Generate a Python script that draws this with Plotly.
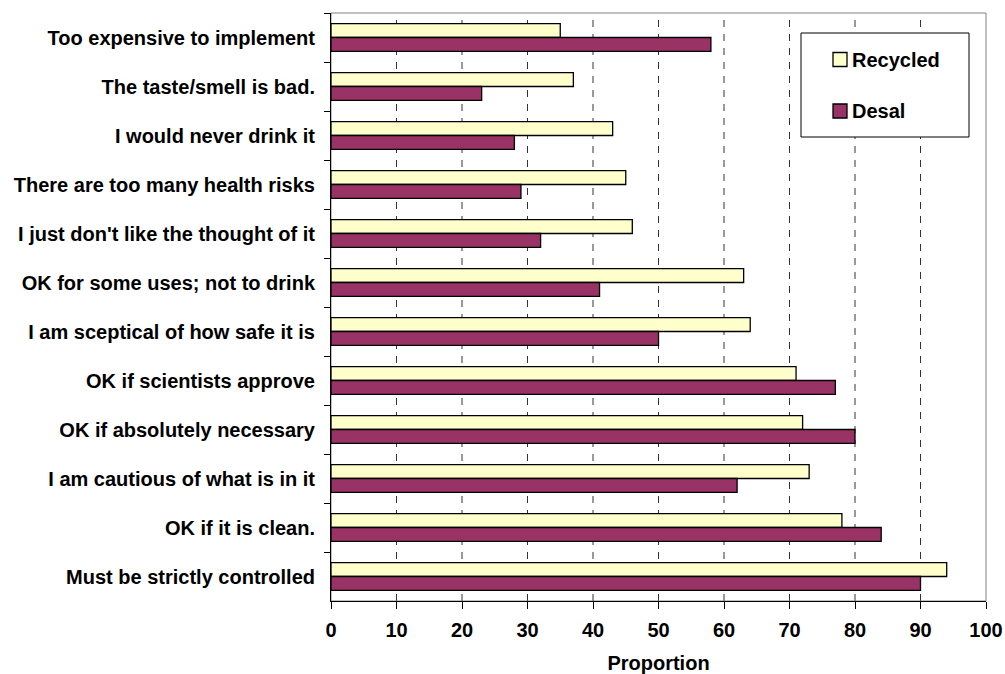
import plotly.graph_objects as go

# Survey responses, listed top to bottom as drawn
reasons = [
    "Too expensive to implement",
    "The taste/smell is bad.",
    "I would never drink it",
    "There are too many health risks",
    "I just don't like the thought of it",
    "OK for some uses; not to drink",
    "I am sceptical of how safe it is",
    "OK if scientists approve",
    "OK if absolutely necessary",
    "I am cautious of what is in it",
    "OK if it is clean.",
    "Must be strictly controlled",
]
recycled = [35, 37, 43, 45, 46, 63, 64, 71, 72, 73, 78, 94]
desal = [58, 23, 28, 29, 32, 41, 50, 77, 80, 62, 84, 90]
x_ticks = [0, 10, 20, 30, 40, 50, 60, 70, 80, 90, 100]

series = [
    ("Recycled", recycled, "#FFFFCC"),
    ("Desal", desal, "#993366"),
]

FONT = "Liberation Sans, Arial, sans-serif"
W, H = 1005, 674
L, R, T, B = 331, 19, 13, 73
pw = W - L - R
ph = H - T - B


def px_x(p):
    return (p - L) / pw


def px_y(p):
    return 1 - (p - T) / ph


fig = go.Figure()
for name, vals, color in series:
    fig.add_trace(go.Bar(
        name=name, y=reasons, x=vals, orientation="h",
        marker=dict(color=color, line=dict(color="#000000", width=1.3)),
    ))

# dashed vertical gridlines
for v in x_ticks[1:-1]:
    fig.add_shape(type="line", xref="x", yref="paper", x0=v, x1=v, y0=0, y1=1,
                  line=dict(color="#333333", width=1, dash="7px,7px"), layer="below")

# plot area frame
fig.add_shape(type="rect", xref="paper", yref="paper", x0=0, x1=1, y0=0, y1=1,
              line=dict(color="#808080", width=1), layer="below")

# legend box with swatches and labels
fig.add_shape(type="rect", xref="paper", yref="paper",
              x0=px_x(801), x1=px_x(969), y0=px_y(33), y1=px_y(137),
              line=dict(color="#000000", width=1), fillcolor="white", layer="above")
for i, (name, vals, color) in enumerate(series):
    cy = 59.5 + i * 51.5
    fig.add_shape(type="rect", xref="paper", yref="paper",
                  x0=px_x(833), x1=px_x(847), y0=px_y(cy - 7), y1=px_y(cy + 7),
                  line=dict(color="#000000", width=1.3), fillcolor=color, layer="above")
    fig.add_annotation(xref="paper", yref="paper", x=px_x(850), y=px_y(cy),
                       xanchor="left", yanchor="middle", showarrow=False,
                       text=name, font=dict(family=FONT, size=20, weight="bold"))

fig.update_layout(
    width=W, height=H,
    margin=dict(l=L, r=R, t=T, b=B, autoexpand=False),
    paper_bgcolor="white", plot_bgcolor="white",
    barmode="group", bargap=0.43, bargroupgap=0,
    font=dict(family=FONT, size=20, color="#000000", weight="bold"),
    showlegend=False,
    xaxis=dict(
        range=[0, 100], tickvals=x_ticks, showgrid=False, zeroline=False,
        showline=True, linecolor="#000000", linewidth=1,
        ticks="outside", ticklen=7, tickcolor="#000000",
        ticklabelstandoff=4,
        title=dict(text="Proportion", standoff=18,
                   font=dict(family=FONT, size=20, weight="bold")),
        tickfont=dict(family=FONT, size=20, weight="bold"),
        automargin=False, fixedrange=True,
    ),
    yaxis=dict(
        autorange="reversed", showgrid=False, zeroline=False,
        showline=True, linecolor="#000000", linewidth=1,
        ticks="outside", ticklen=6, tickcolor="#000000", tickson="boundaries",
        tickfont=dict(family=FONT, size=20, weight="bold"),
        ticklabelstandoff=11,
        automargin=False, fixedrange=True,
    ),
)

fig.write_html("out.html")
